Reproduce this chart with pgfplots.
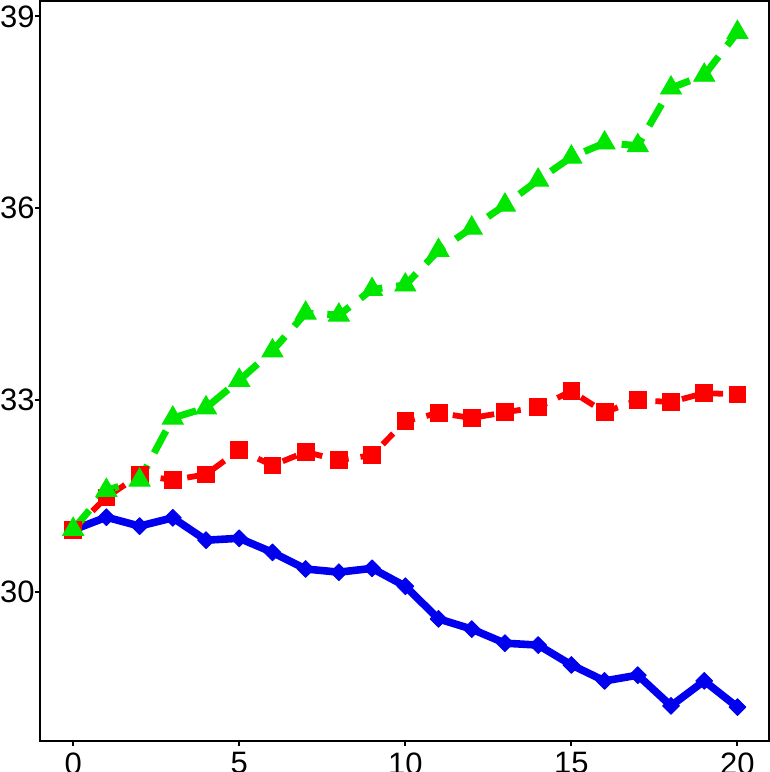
\documentclass[border=0pt]{standalone}
\usepackage{pgfplots}
\pgfplotsset{compat=1.18}
\usepackage{fontspec}
\setmainfont{Liberation Sans}
\definecolor{cblue}{RGB}{0,0,238}
\definecolor{cred}{RGB}{255,0,0}
\definecolor{cgreen}{RGB}{0,230,0}
\begin{document}
\begin{tikzpicture}
\begin{axis}[
  scale only axis,
  width=365pt, height=370.5pt,
  xmin=-1.0, xmax=20.95,
  ymin=27.67, ymax=39.24,
  xtick={0,5,10,15,20},
  ytick={30,33,36,39},
  axis line style={line width=1pt},
  every tick/.style={line width=1pt, black},
  tick align=outside,
  major tick length=2.5pt,
  xtick pos=bottom, ytick pos=left,
  /pgf/number format/assume math mode=true,
  tick label style={font=\fontsize{15.5}{18}\selectfont},
  yticklabel style={inner sep=0pt, xshift=0pt},
  xticklabel style={inner sep=0pt, yshift=-3pt},
  clip=false,
]
\addplot[cblue, line width=3.8pt, line join=round, mark=square*, mark size=3.0pt,
  mark options={solid, rotate=45, line width=0.4pt, fill=cblue}] coordinates {
(0,30.97) (1,31.17) (2,31.03) (3,31.16) (4,30.81) (5,30.84) (6,30.62) (7,30.36)
(8,30.31) (9,30.37) (10,30.09) (11,29.58) (12,29.42) (13,29.20) (14,29.17)
(15,28.86) (16,28.61) (17,28.70) (18,28.22) (19,28.61) (20,28.20)};
\addplot[cred, line width=2.9pt, dash pattern=on 7.5pt off 6pt, mark=square*, mark size=4.2pt,
  mark options={solid, line width=0.4pt, fill=cred}] coordinates {
(0,30.97) (1,31.48) (2,31.83) (3,31.75) (4,31.84) (5,32.22) (6,31.98) (7,32.19)
(8,32.06) (9,32.14) (10,32.67) (11,32.80) (12,32.72) (13,32.81) (14,32.89)
(15,33.14) (16,32.81) (17,33.00) (18,32.97) (19,33.11) (20,33.09)};
\addplot[cgreen, line width=3.5pt, dash pattern=on 12.5pt off 7pt, mark=triangle*, mark size=6.1pt,
  mark options={solid, line width=0.4pt, fill=cgreen}] coordinates {
(0,30.98) (1,31.59) (2,31.75) (3,32.72) (4,32.88) (5,33.31) (6,33.77) (7,34.36)
(8,34.33) (9,34.73) (10,34.80) (11,35.34) (12,35.69) (13,36.05) (14,36.44)
(15,36.80) (16,37.02) (17,36.98) (18,37.88) (19,38.08) (20,38.75)};
\end{axis}
\pgfresetboundingbox
\path[use as bounding box] ([xshift=-20pt,yshift=-15.5pt]current axis.south west) rectangle ([xshift=0.5pt,yshift=0.5pt]current axis.north east);
\end{tikzpicture}
\end{document}
